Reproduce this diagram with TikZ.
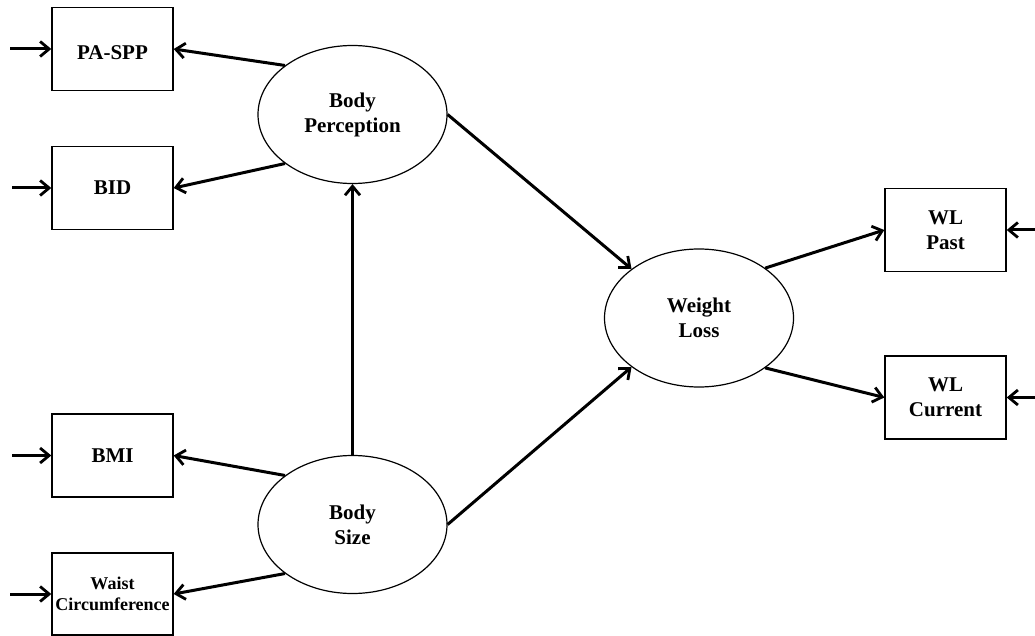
\documentclass[tikz,border=0pt]{standalone}
\usepackage{fontspec}
\setmainfont{Liberation Serif}
\usetikzlibrary{arrows.meta,shapes.geometric}
\begin{document}
\begin{tikzpicture}[x=1pt,y=-1pt,
  obsbox/.style={draw, line width=1.4pt, minimum width=121pt, minimum height=83pt, inner sep=0pt, align=center,
     font=\fontsize{21}{25}\selectfont\bfseries},
  latent/.style={draw, ellipse, line width=1.2pt, minimum width=189pt, minimum height=138pt, inner sep=0pt, align=center,
     font=\fontsize{21}{25}\selectfont\bfseries},
  conn/.style={line width=3pt, -{Straight Barb[length=9pt,width=15pt,line width=2.8pt]}}
]
\useasboundingbox (0,0) rectangle (1035,636);
% observed indicators
\node[obsbox] (pa) at (112.5,49) {\raisebox{-4pt}[\height][\depth]{PA-SPP}};
\node[obsbox] (bid) at (112.5,188) {BID};
\node[obsbox] (bmi) at (112.5,455.5) {BMI};
\node[obsbox, minimum height=82pt, font=\fontsize{18}{21}\selectfont\bfseries] (waist) at (112.5,594) {Waist\\Circumference};
\node[obsbox] (past) at (945.5,230) {WL\\Past};
\node[obsbox] (cur) at (945.5,397.5) {WL\\Current};
% latent variables
\node[latent] (bp) at (352.5,114.5) {Body\\Perception};
\node[latent] (bs) at (352.5,524.5) {Body\\Size};
\node[latent] (wl) at (699,318) {Weight\\Loss};
% error term origins
\coordinate (epa) at (10,49);
\coordinate (ebid) at (12,188);
\coordinate (ebmi) at (12,455.5);
\coordinate (ewaist) at (10,594);
\coordinate (epast) at (1035,230);
\coordinate (ecur) at (1035,397.5);
% connectors
\draw[conn] (bp.144) -- (pa.east);
\draw[conn] (bp.216) -- (bid.east);
\draw[conn] (bs.144) -- (bmi.east);
\draw[conn] (bs.216) -- (waist.east);
\draw[conn] (bs.north) -- (bp.south);
\draw[conn] (bp.east) -- (wl.144);
\draw[conn] (bs.east) -- (wl.216);
\draw[conn] (wl.37) -- (past.west);
\draw[conn] (wl.-37) -- (cur.west);
\draw[conn] (epa) -- (pa.west);
\draw[conn] (ebid) -- (bid.west);
\draw[conn] (ebmi) -- (bmi.west);
\draw[conn] (ewaist) -- (waist.west);
\draw[conn] (epast) -- (past.east);
\draw[conn] (ecur) -- (cur.east);
\end{tikzpicture}
\end{document}
